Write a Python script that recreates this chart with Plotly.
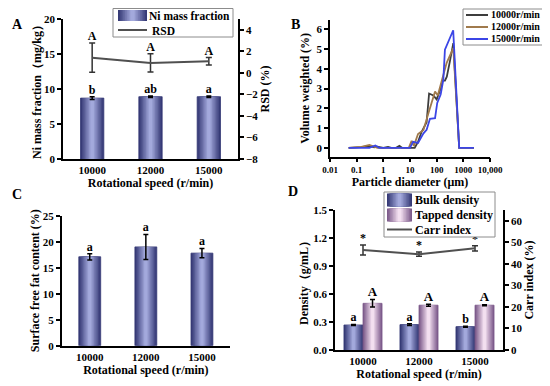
import plotly.graph_objects as go

# ---------------- data ----------------
speeds = ["10000", "12000", "15000"]

# Panel A
ni_mass = [8.7, 8.9, 8.9]
ni_mass_err = [0.2, 0.1, 0.1]
ni_letters = ["b", "ab", "a"]
rsd = [1.41, 0.92, 1.07]
rsd_err = [1.35, 0.85, 0.35]
rsd_letters = ["A", "A", "A"]

# Panel B
d_10000 = [0.05, 0.15, 0.3, 0.45, 0.6, 1, 1.5, 2, 3, 4, 5, 15, 20, 27, 42, 52, 75, 100, 133, 165, 205, 240, 316, 420, 700, 2500]
v_10000 = [0, 0.03, 0.1, 0.03, 0.06, 0, 0.05, 0, 0, 0.1, 0, 0, 0.3, 0.8, 1.3, 2.75, 2.65, 2.45, 2.9, 3.4, 3.4, 3.6, 4.4, 5.3, 0, 0]
d_12000 = [0.05, 0.15, 0.3, 0.45, 0.6, 1, 9, 11.5, 14, 20, 32, 49, 69, 87, 110, 154, 237, 420, 700, 2500]
v_12000 = [0, 0.05, 0.15, 0.08, 0, 0, 0, 0.35, 0.1, 0.7, 0.9, 1.75, 2.4, 2.85, 2.65, 3.4, 4.3, 5.05, 0, 0]
d_15000 = [0.05, 0.3, 0.5, 0.7, 10, 13, 20, 32, 42, 56, 87, 105, 141, 178, 204, 275, 417, 700, 2500]
v_15000 = [0, 0, 0.12, 0, 0, 0.3, 0.25, 0.73, 0.91, 1.47, 1.5, 2.27, 2.7, 3.45, 4.97, 5.4, 5.95, 0, 0]
psd_ticks = [0.01, 0.1, 1, 10, 100, 1000, 10000]
psd_ticktext = ["0.01", "0.1", "1", "10", "100", "1000", "10,000"]

# Panel C
free_fat = [17.1, 19.0, 17.8]
free_fat_err = [0.6, 2.4, 0.9]
free_fat_letters = ["a", "a", "a"]

# Panel D
bulk = [0.268, 0.272, 0.25]
bulk_err = [0.006, 0.01, 0.005]
bulk_letters = ["a", "a", "b"]
tapped = [0.50, 0.48, 0.48]
tapped_err = [0.04, 0.01, 0.005]
tapped_letters = ["A", "A", "A"]
carr = [46.4, 44.5, 47.2]
carr_err = [2.3, 1.0, 1.2]
carr_marks = ["*", "*", "*"]

# ---------------- style ----------------
PAGE_W, PAGE_H = 550, 386
BODY = 8  # default page margin around the plot div
W, H = PAGE_W - BODY, PAGE_H - BODY
FONT = "Liberation Serif"
pos = list(range(len(speeds)))
BLUE_EDGE, BLUE_MID = "#363a76", "#a3a9dc"
PINK_EDGE, PINK_MID = "#7e5c8c", "#f3e0f0"
LINE_GREY = "#505050"


def px(x):
    return (x - BODY) / W


def py(y):
    return 1 - (y - BODY) / H


def mix(c1, c2, t):
    a = [int(c1[i:i + 2], 16) for i in (1, 3, 5)]
    b = [int(c2[i:i + 2], 16) for i in (1, 3, 5)]
    return "#" + "".join(f"{round(a[i] + (b[i] - a[i]) * t):02x}" for i in range(3))


fig = go.Figure()


def gradient_bars(xs, ys, err, shift, width, edge, mid, xa, ya, n=8):
    for k in range(n):
        t = k / (n - 1)
        w = width * (1 - 0.85 * t)
        last = k == n - 1
        fig.add_trace(go.Bar(
            x=xs, y=ys, width=w, offset=shift - w / 2,
            marker=dict(color=mix(edge, mid, t),
                        line=dict(width=0.8 if k == 0 else 0, color=edge)),
            error_y=dict(type="data", array=err, color="black", thickness=1.5, width=2.5,
                         visible=last),
            xaxis=xa, yaxis=ya, showlegend=False, hoverinfo="skip"))


def letters(xs, ys, txt, xa, ya, size=12):
    fig.add_trace(go.Scatter(
        x=xs, y=ys, mode="text", text=txt, textposition="top center",
        textfont=dict(family=FONT, size=size, color="black", weight="bold"),
        xaxis=xa, yaxis=ya, showlegend=False, hoverinfo="skip", cliponaxis=False))


# Panel A
gradient_bars(pos, ni_mass, ni_mass_err, 0, 0.4, BLUE_EDGE, BLUE_MID, "x", "y")
letters(pos, [v + e for v, e in zip(ni_mass, ni_mass_err)], ni_letters, "x", "y")
fig.add_trace(go.Scatter(
    x=pos, y=rsd, mode="lines", line=dict(color=LINE_GREY, width=2),
    error_y=dict(type="data", array=rsd_err, color="#333333", thickness=1.5, width=3),
    xaxis="x", yaxis="y2", showlegend=False))
letters(pos, [v + e for v, e in zip(rsd, rsd_err)], rsd_letters, "x", "y2")

# Panel B
for d, v, c, nm in [(d_10000, v_10000, "#3d3d3d", "10000r/min"),
                    (d_12000, v_12000, "#a07a4c", "12000r/min"),
                    (d_15000, v_15000, "#3b45e6", "15000r/min")]:
    fig.add_trace(go.Scatter(x=d, y=v, mode="lines", line=dict(color=c, width=1.8),
                             name=nm, xaxis="x3", yaxis="y3", showlegend=False))

# Panel C
gradient_bars(pos, free_fat, free_fat_err, 0, 0.39, BLUE_EDGE, BLUE_MID, "x4", "y4")
letters(pos, [v + e for v, e in zip(free_fat, free_fat_err)], free_fat_letters, "x4", "y4")

# Panel D
GS = 0.17
gradient_bars(pos, bulk, bulk_err, -GS, 0.34, BLUE_EDGE, BLUE_MID, "x5", "y5")
gradient_bars(pos, tapped, tapped_err, GS, 0.34, PINK_EDGE, PINK_MID, "x5", "y5")
letters([p - GS for p in pos], [v + e for v, e in zip(bulk, bulk_err)], bulk_letters, "x5", "y5")
letters([p + GS for p in pos], [v + e for v, e in zip(tapped, tapped_err)], tapped_letters, "x5", "y5", size=13)
fig.add_trace(go.Scatter(
    x=pos, y=carr, mode="lines", line=dict(color=LINE_GREY, width=2),
    error_y=dict(type="data", array=carr_err, color="#333333", thickness=1.5, width=3),
    xaxis="x5", yaxis="y6", showlegend=False))
letters(pos, [v + e for v, e in zip(carr, carr_err)], carr_marks, "x5", "y6", size=12)

# ---------------- axes ----------------
tickf = dict(family=FONT, size=11, color="black", weight="bold")
titf = dict(family=FONT, size=12, color="black", weight="bold")


def ax(**kw):
    base = dict(showline=True, linecolor="black", linewidth=1.5, showgrid=False,
                zeroline=False, ticks="outside", ticklen=4, tickwidth=1.5,
                tickcolor="black", tickfont=tickf, automargin=False)
    base.update(kw)
    return base


cat_x = dict(tickmode="array", tickvals=pos, ticktext=speeds, range=[-0.5, 2.5], ticks="")

fig.update_layout(
    width=W, height=H, margin=dict(l=0, r=0, t=0, b=0),
    paper_bgcolor="white", plot_bgcolor="white", barmode="overlay",
    showlegend=False,
    xaxis=ax(domain=[px(63), px(238)], anchor="y",
             title=dict(text="Rotational speed (r/min)", font=titf, standoff=3), **cat_x),
    yaxis=ax(domain=[py(159), py(19)], anchor="x", range=[0, 20], dtick=5,
             title=dict(text="Ni mass fraction（mg/kg）", font=titf, standoff=0)),
    yaxis2=ax(domain=[py(159), py(19)], anchor="x", overlaying="y", side="right",
              range=[-8, 5], tickvals=[-8, -6, -4, -2, 0, 2, 4],
              title=dict(text="RSD (%)", font=titf, standoff=2)),
    xaxis3=ax(domain=[px(330), px(490)], anchor="y3", type="log", range=[-2, 4],
              tickmode="array", tickvals=psd_ticks, ticktext=psd_ticktext,
              tickfont=dict(family=FONT, size=9, color="black", weight="bold"),
              title=dict(text="Particle diameter (μm)", font=titf, standoff=3)),
    yaxis3=ax(domain=[py(156.7), py(20)], anchor="x3", range=[-0.45, 6.47], dtick=1,
              title=dict(text="Volume weighted (%)", font=titf, standoff=4)),
    xaxis4=ax(domain=[px(61.7), px(230)], anchor="y4",
              title=dict(text="Rotational speed (r/min)", font=titf, standoff=3), **cat_x),
    yaxis4=ax(domain=[py(345.7), py(215.7)], anchor="x4", range=[0, 25], dtick=5,
              title=dict(text="Surface free fat content (%)", font=titf, standoff=1)),
    xaxis5=ax(domain=[px(335), px(503)], anchor="y5",
              title=dict(text="Rotational speed (r/min)", font=titf, standoff=3), **cat_x),
    yaxis5=ax(domain=[py(350), py(210)], anchor="x5", range=[0, 1.5], dtick=0.3,
              tickformat=".1f",
              title=dict(text="Density（g/mL）", font=titf, standoff=2)),
    yaxis6=ax(domain=[py(350), py(210)], anchor="x5", overlaying="y5", side="right",
              range=[0, 65], tickvals=[0, 10, 20, 30, 40, 50, 60],
              title=dict(text="Carr index (%)", font=titf, standoff=3)),
)

# ---------------- panel letters ----------------
for lab, x, y in [("A", 10, 15), ("B", 295, 15), ("C", 10, 195), ("D", 293, 191)]:
    fig.add_annotation(x=px(x), y=py(y), xref="paper", yref="paper", text=lab,
                       showarrow=False, font=dict(family=FONT, size=14, color="black", weight="bold"))

# ---------------- legends (drawn as boxes with real text) ----------------
shapes = []
annots = []


def legend_box(x0, y0, x1, y1):
    shapes.append(dict(type="rect", xref="paper", yref="paper", x0=px(x0), x1=px(x1),
                       y0=py(y1), y1=py(y0), line=dict(color="#8c8c8c", width=1),
                       fillcolor="white", layer="above"))


def legend_bar(x0, y0, x1, y1, edge, mid, n=8):
    cx = (x0 + x1) / 2
    hw = (x1 - x0) / 2
    for k in range(n):
        t = k / (n - 1)
        w = hw * (1 - 0.85 * t)
        shapes.append(dict(type="rect", xref="paper", yref="paper", x0=px(cx - w), x1=px(cx + w),
                           y0=py(y1), y1=py(y0), line=dict(width=0),
                           fillcolor=mix(edge, mid, t), layer="above"))


def legend_line(x0, x1, y, color, width=2):
    shapes.append(dict(type="line", xref="paper", yref="paper", x0=px(x0), x1=px(x1),
                       y0=py(y), y1=py(y), line=dict(color=color, width=width), layer="above"))


def legend_text(x, y, text, size=12):
    annots.append(dict(x=px(x), y=py(y), xref="paper", yref="paper", text=text,
                       showarrow=False, xanchor="left", yanchor="middle", borderpad=0,
                       font=dict(family=FONT, size=size, color="black", weight="bold")))


# Legend A
legend_box(113, 8.5, 233, 37)
legend_bar(118, 10, 147, 21, BLUE_EDGE, BLUE_MID)
legend_text(148, 15.5, "Ni mass fraction", size=11.5)
legend_line(118, 147, 30, LINE_GREY)
legend_text(151, 30.5, "RSD", size=11.5)

# Legend B
legend_box(463, 9, 543, 45)
for y, c, nm in [(15, "#3d3d3d", "10000r/min"), (27, "#a07a4c", "12000r/min"), (39, "#3b45e6", "15000r/min")]:
    legend_line(466, 488, y, c)
    legend_text(490, y, nm, size=10)

# Legend D
legend_box(384, 192, 495, 237)
legend_bar(387, 193.5, 412, 206.5, BLUE_EDGE, BLUE_MID)
legend_text(414, 200, "Bulk density")
legend_bar(387, 208.5, 412, 221.5, PINK_EDGE, PINK_MID)
legend_text(414, 215, "Tapped density")
legend_line(387, 412, 229.5, LINE_GREY)
legend_text(414, 230, "Carr index")

fig.update_layout(shapes=shapes)
for a in annots:
    fig.add_annotation(**a)

fig.write_html("out.html")
